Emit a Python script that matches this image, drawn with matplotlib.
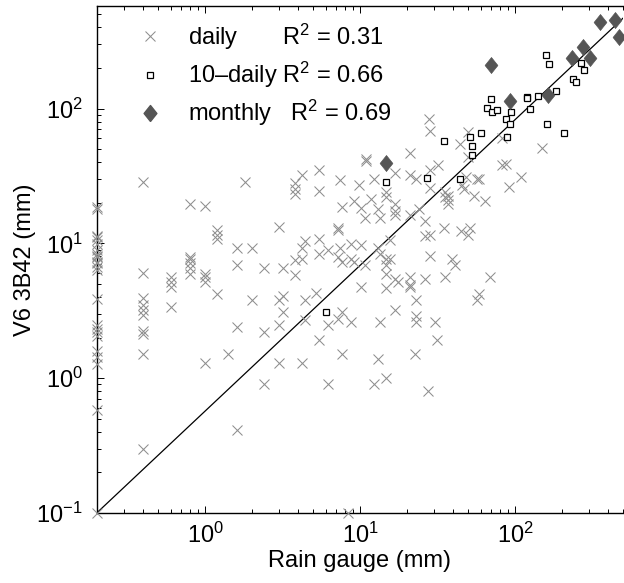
import matplotlib
matplotlib.use('Agg')
import matplotlib.pyplot as plt
from matplotlib.ticker import LogLocator, NullFormatter
from matplotlib.lines import Line2D

plt.rcParams['font.family'] = ['Liberation Sans', 'DejaVu Sans']
plt.rcParams['mathtext.fontset'] = 'custom'
plt.rcParams['mathtext.rm'] = 'Liberation Sans'
plt.rcParams['mathtext.it'] = 'Liberation Sans:italic'
plt.rcParams['mathtext.bf'] = 'Liberation Sans:bold'
plt.rcParams['mathtext.default'] = 'regular'

# ---------------- data ----------------
daily_cols = {
    0.2: [18.6, 18.0, 11.4, 11.1, 10.5, 9.95, 8.9, 8.4, 8.1, 7.9, 7.3, 7.1, 6.7, 6.3,
          3.88, 2.46, 2.33, 2.2, 2.07, 1.6, 1.43, 1.28, 0.58, 0.1],
    0.4: [28.5, 6.0, 3.9, 3.5, 3.2, 2.95, 2.22, 2.13, 1.5, 0.3],
    0.6: [5.6, 5.2, 4.74, 3.4],
    0.8: [19.7, 7.9, 7.6, 7.2, 6.6, 5.9],
    1.0: [18.9, 5.9, 5.6, 5.2, 1.3],
    1.2: [12.6, 11.6, 10.8, 4.23],
    1.4: [1.5],
    1.6: [9.3, 6.9, 2.39, 0.41],
    1.8: [28.5],
    2.0: [9.3, 3.8],
    2.4: [6.6, 2.2, 0.9],
    3.0: [13.2, 3.8, 2.49, 1.3],
    3.2: [6.6, 4.05, 3.09],
    3.8: [28, 25.5, 23.4, 7.5, 5.8],
    4.2: [32, 9.3, 7.7, 1.3],
    4.4: [10.4, 3.8, 2.71],
    5.2: [4.27],
    5.4: [35, 24.3, 10.8, 8.38, 1.91],
    6.2: [8.87, 2.49, 0.9],
    7.2: [13, 12.6, 7.9, 2.75],
    7.4: [29.4, 9.3],
    7.7: [18.6, 7.26, 3.09, 1.5],
    8.4: [0.1],
    8.7: [9.95, 7.69, 2.6],
    9.2: [20.6, 7.26],
    9.8: [27],
    10.2: [18.4, 9.67, 4.74],
    10.8: [15.3, 6.87],
    11.0: [42.5, 41],
    11.8: [21.5],
    12.4: [30, 0.9],
    13.0: [18.1, 9.3, 1.39],
    13.4: [15.5, 8.4, 2.6],
    14.7: [24, 22, 7.7, 6.87, 5.9, 4.7, 1.0],
    15.6: [10.5, 7.7],
    16.8: [33, 19.7, 17.5, 16.1, 5.4, 3.2],
    17.7: [5.2],
    21.0: [46.4, 32, 16.1, 5.6, 4.95, 4.74],
    22.5: [1.5],
    23.0: [29.8, 3.8, 2.9, 2.6],
    24.0: [18.1],
    26.4: [14.6, 11.3, 5.4],
    27.3: [0.8],
    28.0: [83],
    28.4: [68, 35, 25.9, 11.6, 8.0],
    30.6: [2.6],
    31.5: [1.91],
    32.0: [37.9],
    34.6: [13.1],
    35.5: [24, 22, 5.6],
    37.0: [22.6, 21, 19.7],
    39.0: [7.7],
    41.0: [6.87],
    44.0: [55],
    45.0: [12.4],
    45.5: [27],
    47.0: [25.5],
    48.0: [31],
    50.0: [67, 44, 11.6],
    51.0: [13.1],
    54.0: [22.6],
    57.0: [29.8, 3.78],
    59.0: [29.8, 4.2],
    64.0: [20.6],
    69.0: [5.6],
    82.0: [37.9],
    83.0: [60],
    87.0: [39],
    91.0: [26],
    110.0: [31],
    149.0: [51],
}
daily_x = [x for x, ys in daily_cols.items() for _ in ys]
daily_y = [y for ys in daily_cols.values() for y in ys]

tendaily_x = [158.6, 166, 267, 280, 236, 248, 184, 141, 119, 120, 125, 69.7, 66.2, 71,
              76.9, 87, 93.8, 92.4, 89, 162, 207, 60.6, 51.2, 52.5, 52.5, 34.8, 26.9,
              44.2, 14.8, 6.0]
tendaily_y = [249, 213, 216, 192, 165, 157, 134, 124, 122, 119, 100, 117, 101, 94,
              98, 84, 94, 77.4, 61, 77.4, 66, 66.4, 61.5, 52.5, 45, 57, 30.5,
              30.2, 28.7, 3.09]

monthly_x = [354, 443, 472, 274, 232, 305, 164, 92.8, 69.7, 14.8]
monthly_y = [435, 453, 337, 287, 239, 239, 127, 114, 212, 39.7]

line_x = [0.2, 500]
line_y = [0.1, 470]

series_names = ['daily', '10\u2013daily', 'monthly']
r2_values = [0.31, 0.66, 0.69]
name_pad = [7, 1, 3]

# ---------------- figure ----------------
fig = plt.figure(figsize=(6.24, 5.83), dpi=100)
ax = fig.add_axes([96.7 / 624, 70 / 583, 526.6 / 624, 507.4 / 583])
ax.set_xscale('log')
ax.set_yscale('log')

ax.plot(line_x, line_y, color='black', lw=0.9, zorder=2)
h1, = ax.plot(daily_x, daily_y, ls='none', marker='x', ms=6.5, mew=0.75,
              color='#8e8e8e', clip_on=False, zorder=3)
h2, = ax.plot(tendaily_x, tendaily_y, ls='none', marker='s', ms=4.5, mew=0.9,
              mfc='white', mec='black', zorder=4)
diamond = [(0, -1), (0.8, 0), (0, 1), (-0.8, 0), (0, -1)]
h3, = ax.plot(monthly_x, monthly_y, ls='none', marker=diamond, ms=11.5,
              mfc='#555555', mec='#555555', mew=0.5, zorder=5)

ax.set_xlim(0.2, 500)
ax.set_ylim(0.1, 580)

ax.xaxis.set_major_locator(LogLocator(base=10, numticks=10))
ax.yaxis.set_major_locator(LogLocator(base=10, numticks=10))
ax.xaxis.set_minor_locator(LogLocator(base=10, subs=range(2, 10), numticks=20))
ax.yaxis.set_minor_locator(LogLocator(base=10, subs=range(2, 10), numticks=20))
ax.xaxis.set_minor_formatter(NullFormatter())
ax.yaxis.set_minor_formatter(NullFormatter())

ax.tick_params(which='both', direction='in', top=True, right=False,
               labelsize=17, width=0.7)
ax.tick_params(which='major', length=5)
ax.tick_params(which='minor', length=3)
ax.tick_params(axis='x', pad=7)
ax.tick_params(axis='y', pad=10)
ax.spines['right'].set_visible(False)
for s in ['left', 'bottom', 'top']:
    ax.spines[s].set_linewidth(1.0)

ax.set_xlabel('Rain gauge (mm)', fontsize=17)
ax.set_ylabel('V6 3B42 (mm)', fontsize=17)
ax.xaxis.set_label_coords(0.5, -0.073)
ax.yaxis.set_label_coords(-0.115, 0.5)

labels = [name + ' ' * p + 'R$^2$ = %.2f' % r for name, p, r in
          zip(series_names, name_pad, r2_values)]
hl1 = Line2D([], [], ls='none', marker='x', ms=6.5, mew=0.75, color='#8e8e8e')
hl2 = Line2D([], [], ls='none', marker='s', ms=4.5, mew=0.9, mfc='white', mec='black')
hl3 = Line2D([], [], ls='none', marker=diamond, ms=11.5, mfc='#555555', mec='#555555')
ax.legend([hl1, hl2, hl3], labels, loc='upper left', bbox_to_anchor=(0.079, 0.969),
          frameon=False, fontsize=17, handlelength=1.0, handletextpad=1.1,
          labelspacing=0.35, borderpad=0, borderaxespad=0)

fig.savefig('out.png', dpi=100)
